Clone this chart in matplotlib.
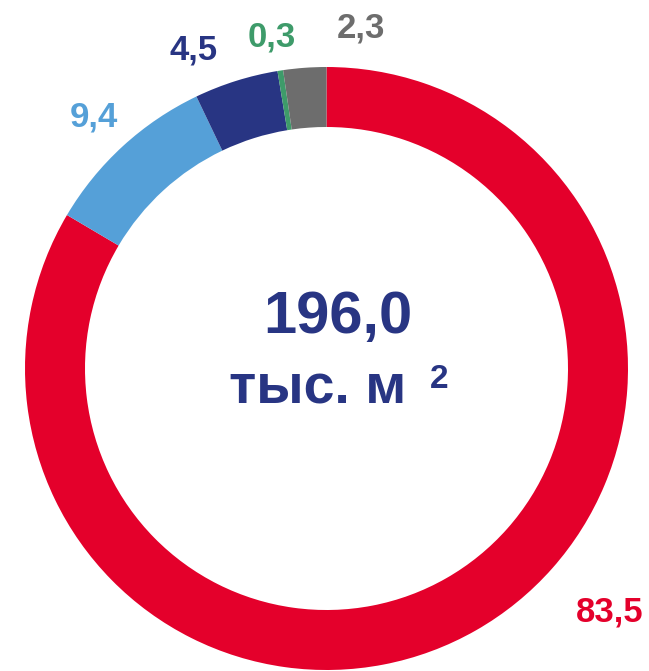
import matplotlib.pyplot as plt
import numpy as np

plt.rcParams['font.family'] = ['Liberation Sans', 'DejaVu Sans']
plt.rcParams['font.weight'] = 'bold'

# data
values = [83.5, 9.4, 4.5, 0.3, 2.3]
value_labels = ['83,5', '9,4', '4,5', '0,3', '2,3']
colors = ['#E4002B', '#55A0D8', '#283583', '#3E9B6A', '#6D6D6D']
total_label = '196,0'
unit_label = 'тыс. м'

# label placement (angle in degrees, distance in radii)
label_polar = [(-40.7, 1.24), (132.8, 1.135), (112.7, 1.145), (99.3, 1.115), (84.2, 1.135)]

W, H = 649, 671
cx, cy = 326.5, H - 368.5
R = 301.5

fig = plt.figure(figsize=(W / 100, H / 100), dpi=100)
ax = fig.add_axes([0, 0, 1, 1])

ax.pie(values, colors=colors, startangle=90, counterclock=False,
       radius=R, center=(cx, cy), frame=True,
       wedgeprops=dict(width=60, linewidth=0))

for txt, col, (ang, dist) in zip(value_labels, colors, label_polar):
    a = np.deg2rad(ang)
    ax.text(cx + dist * R * np.cos(a), cy + dist * R * np.sin(a), txt,
            color=col, fontsize=25, fontweight='bold', ha='center', va='center')

ax.text(337.5, H - 317, total_label, color='#283583', fontsize=43,
        fontweight='bold', ha='center', va='center')
ax.text(318, H - 390, unit_label, color='#283583', fontsize=40,
        fontweight='bold', ha='center', va='center')
ax.text(439, H - 379, '2', color='#283583', fontsize=24,
        fontweight='bold', ha='center', va='center')

ax.set_xlim(0, W)
ax.set_ylim(0, H)
ax.set_aspect('equal')
ax.axis('off')

fig.savefig('out.png', dpi=100)
